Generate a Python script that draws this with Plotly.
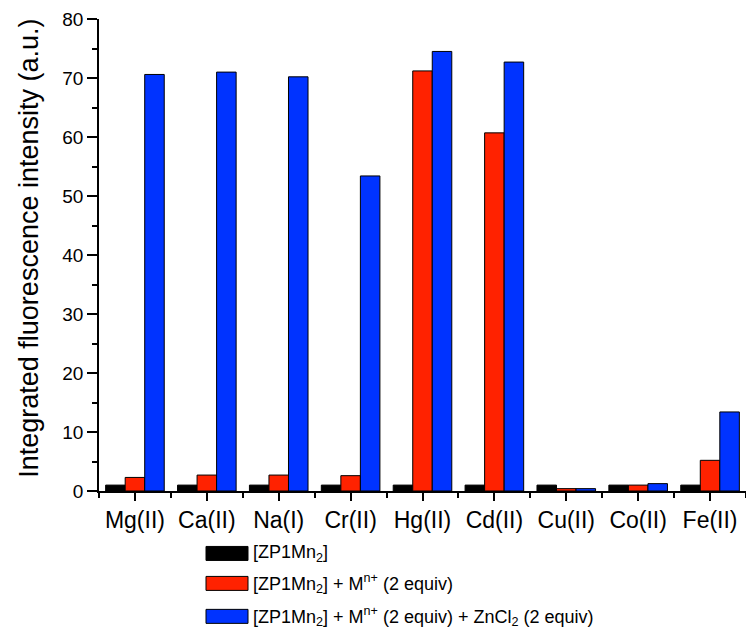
import plotly.graph_objects as go

# Metal ions tested
categories = ["Mg(II)", "Ca(II)", "Na(I)", "Cr(II)", "Hg(II)", "Cd(II)", "Cu(II)", "Co(II)", "Fe(II)"]

# Integrated fluorescence intensity (a.u.)
probe_only = [1.0, 1.0, 1.0, 1.0, 1.0, 1.0, 1.0, 1.0, 1.0]
probe_metal = [2.3, 2.7, 2.7, 2.6, 71.2, 60.7, 0.4, 1.0, 5.2]
probe_metal_zn = [70.6, 71.0, 70.2, 53.4, 74.5, 72.7, 0.4, 1.25, 13.4]

series_names = [
    "[ZP1Mn<sub>2</sub>]",
    "[ZP1Mn<sub>2</sub>] + M<sup>n+</sup> (2 equiv)",
    "[ZP1Mn<sub>2</sub>] + M<sup>n+</sup> (2 equiv) + ZnCl<sub>2</sub> (2 equiv)",
]
series_values = [probe_only, probe_metal, probe_metal_zn]
series_colors = ["#000000", "#FF2200", "#0033FF"]

y_ticks = [0, 10, 20, 30, 40, 50, 60, 70, 80]

FONT = "Liberation Sans, Arial, sans-serif"
W, H = 746, 631
L, R, T, B = 99, 0, 19, 139.5
plot_w = W - L - R
plot_h = H - T - B

x_pos = list(range(len(categories)))

fig = go.Figure()
for name, vals, col in zip(series_names, series_values, series_colors):
    fig.add_trace(go.Bar(
        x=x_pos, y=vals, name=name,
        marker=dict(color=col, line=dict(color="#000000", width=1)),
        showlegend=False,
    ))

# Legend drawn as large swatches with text beside them
def px_to_paper_x(px):
    return (px - L) / plot_w

def px_to_paper_y(py):
    return (H - B - py) / plot_h

legend_rows = [554, 584, 617]
for name, col, yc in zip(series_names, series_colors, legend_rows):
    fig.add_shape(
        type="rect", xref="paper", yref="paper",
        x0=px_to_paper_x(206), x1=px_to_paper_x(248),
        y0=px_to_paper_y(yc - 7), y1=px_to_paper_y(yc + 7),
        fillcolor=col, line=dict(color="#000000", width=1),
    )
    fig.add_annotation(
        xref="paper", yref="paper",
        x=px_to_paper_x(251), y=px_to_paper_y(yc),
        text=name, showarrow=False, xanchor="left", yanchor="middle",
        font=dict(family=FONT, size=18, color="#000000"),
    )

# Y-axis title
fig.add_annotation(
    xref="paper", yref="paper",
    x=px_to_paper_x(29), y=px_to_paper_y(249),
    text="Integrated fluorescence intensity (a.u.)",
    textangle=-90, showarrow=False, xanchor="center", yanchor="middle",
    font=dict(family=FONT, size=27, color="#000000"),
)

fig.update_layout(
    width=W, height=H,
    margin=dict(l=L, r=R, t=T, b=B, pad=0),
    paper_bgcolor="white", plot_bgcolor="white",
    barmode="group", bargap=0.185, bargroupgap=0,
    font=dict(family=FONT, color="#000000"),
    showlegend=False,
)

fig.update_xaxes(
    range=[-0.5, len(categories) - 0.5],
    tickmode="array", tickvals=x_pos, ticktext=categories,
    ticks="outside", ticklen=8, tickwidth=1.5, tickcolor="#000000",
    minor=dict(tickmode="linear", tick0=0.5, dtick=1, ticks="outside",
               ticklen=5, tickwidth=1.5, tickcolor="#000000"),
    showline=True, linecolor="#000000", linewidth=1.5,
    showgrid=False, zeroline=False,
    tickfont=dict(family=FONT, size=23, color="#000000"),
)

fig.update_yaxes(
    range=[0, 80],
    tickmode="array", tickvals=y_ticks,
    ticks="outside", ticklen=10, tickwidth=1.5, tickcolor="#000000",
    minor=dict(tickmode="linear", tick0=5, dtick=10, ticks="outside",
               ticklen=5, tickwidth=1.5, tickcolor="#000000"),
    showline=True, linecolor="#000000", linewidth=1.5,
    showgrid=False, zeroline=False,
    tickfont=dict(family=FONT, size=19, color="#000000"),
)

fig.write_html("out.html")
